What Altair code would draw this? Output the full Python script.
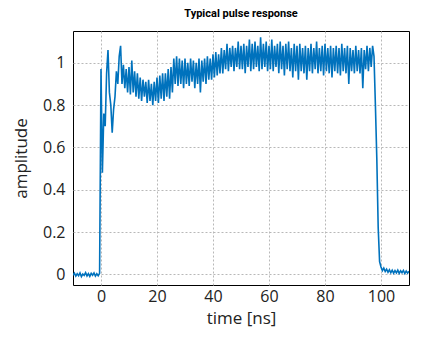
import altair as alt
import numpy as np
import pandas as pd

# amplitude samples (0.5 ns spacing inside each segment)
pre_t = (-10.0, -0.5)
pre_amp = [-0.004, 0.006, -0.008, 0.003, -0.006, 0.007, -0.010, 0.002, -0.005, 0.008,
           -0.007, 0.004, -0.009, 0.005, -0.004, 0.007, -0.008, 0.003, -0.006, 0.005]

ring_t = (0.0, 25.5)
ring_amp = [0.97, 0.48, 0.76, 0.70, 0.95, 1.06, 0.86, 0.80, 0.67, 0.78,
            0.84, 0.96, 0.90, 1.03, 1.08, 0.90, 0.99, 0.88, 0.97, 0.86,
            0.98, 0.85, 1.01, 0.86, 0.96, 0.84, 0.95, 0.83, 0.93, 0.82,
            0.92, 0.84, 0.91, 0.81, 0.92, 0.82, 0.90, 0.80, 0.91, 0.82,
            0.93, 0.81, 0.94, 0.83, 0.95, 0.82, 0.95, 0.84, 0.97, 0.83,
            0.98, 0.86]

plateau_t = (26.0, 97.0)
plateau_amp = [1.02, 0.90, 1.03, 0.89, 1.02, 0.90, 1.01, 0.88, 1.02, 0.90,
               1.00, 0.89, 1.02, 0.91, 1.01, 0.88, 1.00, 0.90, 1.02, 0.86,
               1.01, 0.91, 1.02, 0.90, 1.03, 0.92, 1.02, 0.92, 1.04, 0.93,
               1.05, 0.94, 1.04, 0.95, 1.07, 0.95, 1.06, 0.97, 1.09, 0.96,
               1.07, 0.98, 1.08, 0.96, 1.07, 0.98, 1.10, 0.97, 1.08, 0.97,
               1.09, 0.95, 1.08, 0.98, 1.11, 0.96, 1.09, 0.97, 1.10, 0.98,
               1.08, 0.96, 1.12, 0.97, 1.09, 0.98, 1.10, 0.96, 1.08, 0.97,
               1.11, 0.96, 1.08, 0.98, 1.09, 0.95, 1.10, 0.97, 1.08, 0.94,
               1.09, 0.97, 1.10, 0.96, 1.07, 0.93, 1.09, 0.96, 1.08, 0.92,
               1.09, 0.96, 1.07, 0.95, 1.08, 0.92, 1.07, 0.96, 1.09, 0.95,
               1.07, 0.97, 1.10, 0.95, 1.07, 0.96, 1.08, 0.94, 1.09, 0.96,
               1.07, 0.95, 1.08, 0.93, 1.07, 0.96, 1.08, 0.95, 1.07, 0.94,
               1.09, 0.96, 1.07, 0.95, 1.08, 0.90, 1.07, 0.96, 1.06, 0.95,
               1.08, 0.96, 1.06, 0.95, 1.07, 0.88, 1.06, 0.97, 1.08, 0.96,
               1.07, 0.98, 1.08]

fall_t = (97.5, 99.5)
fall_amp = [1.03, 0.80, 0.55, 0.22, 0.06]

tail_t = (100.0, 110.0)
tail_amp = [0.035, 0.018, 0.030, 0.014, 0.025, 0.010, 0.022, 0.008, 0.020, 0.006,
            0.018, 0.007, 0.020, 0.005, 0.017, 0.008, 0.019, 0.004, 0.016, 0.006,
            0.015]

segments = [(pre_t, pre_amp), (ring_t, ring_amp), (plateau_t, plateau_amp),
            (fall_t, fall_amp), (tail_t, tail_amp)]
t_all, a_all = [], []
for (t0, t1), amps in segments:
    t_all.extend(np.linspace(t0, t1, len(amps)).tolist())
    a_all.extend(amps)

df = pd.DataFrame({"time": t_all, "amplitude": a_all, "order": range(len(t_all))})

x_ticks = [0, 20, 40, 60, 80, 100]
y_ticks = [0, 0.2, 0.4, 0.6, 0.8, 1.0]

chart = alt.Chart(df).mark_line(color="#0072BD", strokeWidth=1.6, clip=True).encode(
    x=alt.X("time:Q", scale=alt.Scale(domain=[-10, 110], nice=False, zero=False),
            axis=alt.Axis(values=x_ticks, title="time [ns]", format="d")),
    y=alt.Y("amplitude:Q", scale=alt.Scale(domain=[-0.05, 1.15], nice=False, zero=False),
            axis=alt.Axis(values=y_ticks, title="amplitude", format="~r")),
    order="order:Q",
).properties(
    width=336,
    height=254,
    title=alt.Title("Typical pulse response", font="Roboto", fontSize=11,
                    fontWeight="bold", color="#000000", offset=12),
    padding={"left": 73, "top": 31, "right": 31, "bottom": 65},
    autosize=alt.AutoSizeParams(type="none"),
).configure_view(
    stroke="#000000", strokeWidth=1
).configure_axis(
    labelFont="Open Sans", labelFontSize=16, labelColor="#222222",
    titleFont="Open Sans", titleFontSize=17, titleFontWeight="normal", titleColor="#222222",
    domain=False, ticks=False, labelPadding=8,
    grid=True, gridColor="#b8b8b8", gridDash=[2, 2], gridWidth=1,
).configure_axisX(
    labelPadding=3, titlePadding=6,
).configure_axisY(
    titlePadding=12,
)

chart.save("out.html", embed_options={"renderer": "svg", "actions": False})
